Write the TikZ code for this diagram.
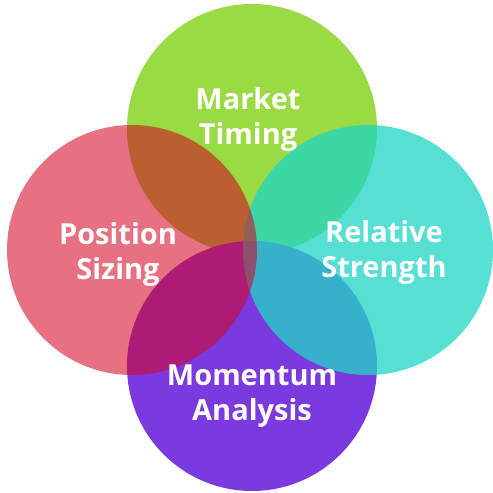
\documentclass[tikz,border=0pt]{standalone}
\usepackage{fontspec}
\setmainfont{Open Sans}
\usepackage{tikz}

\definecolor{mktgreen}{RGB}{154,218,66}
\definecolor{mompurple}{RGB}{123,58,224}
\definecolor{relcyan}{RGB}{33,214,197}
\definecolor{posred}{RGB}{212,4,35}

\begin{document}
\begin{tikzpicture}[
  x=1pt,y=-1pt,
  circ/.style={circle,minimum size=250pt,inner sep=0pt,draw=none},
  lbl/.style={text=white,align=center,font=\bfseries\fontsize{29}{35}\selectfont}
]
\useasboundingbox (0,0) rectangle (493,493);
% circles, back to front
\node[circ,fill=mktgreen]                    (market)   at (252,129) {};
\node[circ,fill=mompurple]                   (momentum) at (252,366) {};
\node[circ,fill=relcyan,fill opacity=0.76]   (relative) at (368,250) {};
\node[circ,fill=posred,fill opacity=0.57]    (position) at (132,250) {};

% labels
\node[lbl] (lmarket)   at (248,119) {Market\\Timing};
\node[lbl] (lposition) at (118,254) {Position\\Sizing};
\node[lbl] (lrelative) at (384,252) {Relative\\Strength};
\node[lbl] (lmomentum) at (252,396) {Momentum\\Analysis};
\end{tikzpicture}
\end{document}
